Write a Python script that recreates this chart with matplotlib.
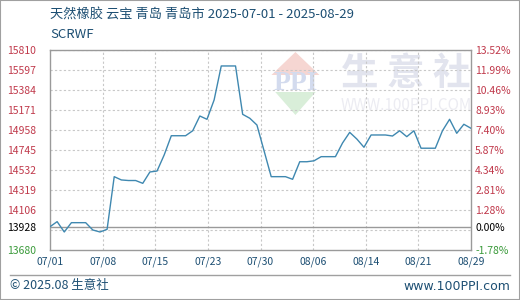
#!/usr/bin/env python3
# -*- coding: utf-8 -*-
"""天然橡胶 云宝 青岛 价格走势图 (生意社风格)"""

import numpy as np
import pandas as pd
import matplotlib
matplotlib.use('Agg')
import matplotlib.pyplot as plt
from matplotlib.patches import Rectangle, Polygon

plt.rcParams['font.family'] = ['Noto Sans CJK SC', 'DejaVu Sans']
plt.rcParams['axes.unicode_minus'] = False

# 日期（自然日）和价格
dates = pd.date_range('2025-07-01', '2025-08-29', freq='D')
prices = [
    13928, 13982, 13872, 13971, 13971, 13971, 13893, 13872, 13900, 14461,
    14426, 14420, 14420, 14390, 14511, 14521, 14692, 14897, 14897, 14897,
    14950, 15107, 15072, 15278, 15640, 15640, 15640, 15125, 15083, 15011,
    14736, 14461, 14461, 14461, 14433, 14620, 14620, 14630, 14674, 14674,
    14674, 14820, 14933, 14862, 14774, 14905, 14905, 14905, 14894, 14950,
    14887, 14950, 14764, 14764, 14764, 14950, 15072, 14923, 15019, 14976,
]
base_price = 13928

# 坐标轴刻度
left_ticks = [15810, 15597, 15384, 15171, 14958, 14745, 14532, 14319, 14106, 13928, 13680]
right_labels = ['13.52%', '11.99%', '10.46%', '8.93%', '7.40%', '5.87%', '4.34%',
                '2.81%', '1.28%', '0.00%', '-1.78%']
grid_values = [15810, 15597, 15384, 15171, 14958, 14745, 14532, 14319, 14106, 13893]

title = '天然橡胶 云宝 青岛 青岛市 2025-07-01 - 2025-08-29'
unit = 'SCRWF'

RED = '#c0394b'
GREEN = '#3a9a3a'
BLUE_TXT = '#1d4f73'
LINE = '#3f88b0'

fig = plt.figure(figsize=(5.2, 3), dpi=100)
W, H = 520, 300


def fx(px):
    return px / W


def fy(py):
    return 1 - py / H


# 外框
fig.patches.append(Rectangle((0, 0), 1, 1, transform=fig.transFigure, fill=False,
                             edgecolor='#a0a0a0', lw=1.5))

ax = fig.add_axes([fx(50), fy(250), fx(421), 200 / H])
ymin, ymax = 13680, 15810
n = len(prices)
x = np.arange(n)

# 水印
ax.add_patch(Polygon([[0.583, 0.99], [0.64, 0.875], [0.526, 0.875]], closed=True,
                     transform=ax.transAxes, facecolor='#f6d6d2', edgecolor='none', zorder=0))
ax.add_patch(Polygon([[0.535, 0.79], [0.631, 0.79], [0.583, 0.675]], closed=True,
                     transform=ax.transAxes, facecolor='#d9eed9', edgecolor='none', zorder=0))
ax.text(0.583, 0.835, 'PPI', transform=ax.transAxes, ha='center', va='center',
        fontsize=20, color='#d3dbee', family=['Liberation Serif'], fontweight='bold', zorder=0)
ax.text(0.845, 0.885, '生 意 社', transform=ax.transAxes, ha='center', va='center',
        fontsize=27, color='#e2e4ee', fontweight='bold', zorder=0)
ax.text(0.845, 0.72, 'WWW.100PPI.COM', transform=ax.transAxes, ha='center', va='center',
        fontsize=11, color='#ececf2', zorder=0)

# 网格
for v in grid_values:
    ax.axhline(v, color='#c8c8c8', lw=0.8, ls=(0, (2, 2)), zorder=1)
tick_pos = [i * (n - 1) / 8 for i in range(9)]
for p in tick_pos[1:-1]:
    ax.axvline(p, color='#c8c8c8', lw=0.8, ls=(0, (2, 2)), zorder=1)
ax.axhline(base_price, color='#9a9a9a', lw=1.0, zorder=2)

ax.plot(x, prices, color=LINE, lw=1.0, zorder=3)

ax.set_xlim(0, n - 1)
ax.set_ylim(ymin, ymax)
for s in ax.spines.values():
    s.set_color('#9a9a9a')
    s.set_linewidth(1.0)

ax.set_xticks(tick_pos)
ax.set_xticklabels([dates[int(np.floor(p + 1e-9))].strftime('%m/%d') for p in tick_pos])
ax.tick_params(axis='x', length=0, pad=5, labelsize=7.5, labelcolor=BLUE_TXT)

ax.set_yticks(left_ticks)
ax.set_yticklabels([str(v) for v in left_ticks])
ax.tick_params(axis='y', length=0, pad=10, labelsize=7.5)
ylabs = ax.get_yticklabels()
for lab in ylabs:
    lab.set_color(RED)
ylabs[-2].set_color('black')
ylabs[-1].set_color(GREEN)

ax2 = ax.twinx()
ax2.set_ylim(ymin, ymax)
ax2.set_yticks(left_ticks)
ax2.set_yticklabels(right_labels)
ax2.tick_params(axis='y', length=0, pad=3, labelsize=7.5)
rlabs = ax2.get_yticklabels()
for lab in rlabs:
    lab.set_color(RED)
rlabs[-2].set_color('black')
rlabs[-1].set_color(GREEN)
for s in ax2.spines.values():
    s.set_visible(False)

# 标题
fig.text(fx(50), fy(15), title, fontsize=9.5, color=BLUE_TXT, va='center', ha='left')
fig.text(fx(50), fy(35), unit, fontsize=9.5, color=BLUE_TXT, va='center', ha='left')

# 底部
fig.add_artist(plt.Line2D([fx(10), fx(510)], [fy(275), fy(275)], color='#a0a0a0', lw=1.0))
fig.text(fx(10), fy(286), '© 2025.08 生意社', fontsize=9, color=BLUE_TXT, va='center', ha='left')
fig.text(fx(510), fy(286), 'www.100PPI.com', fontsize=9, color=BLUE_TXT, va='center', ha='right',
         family=['DejaVu Sans'])

fig.savefig('out.png', dpi=100)
plt.close(fig)
